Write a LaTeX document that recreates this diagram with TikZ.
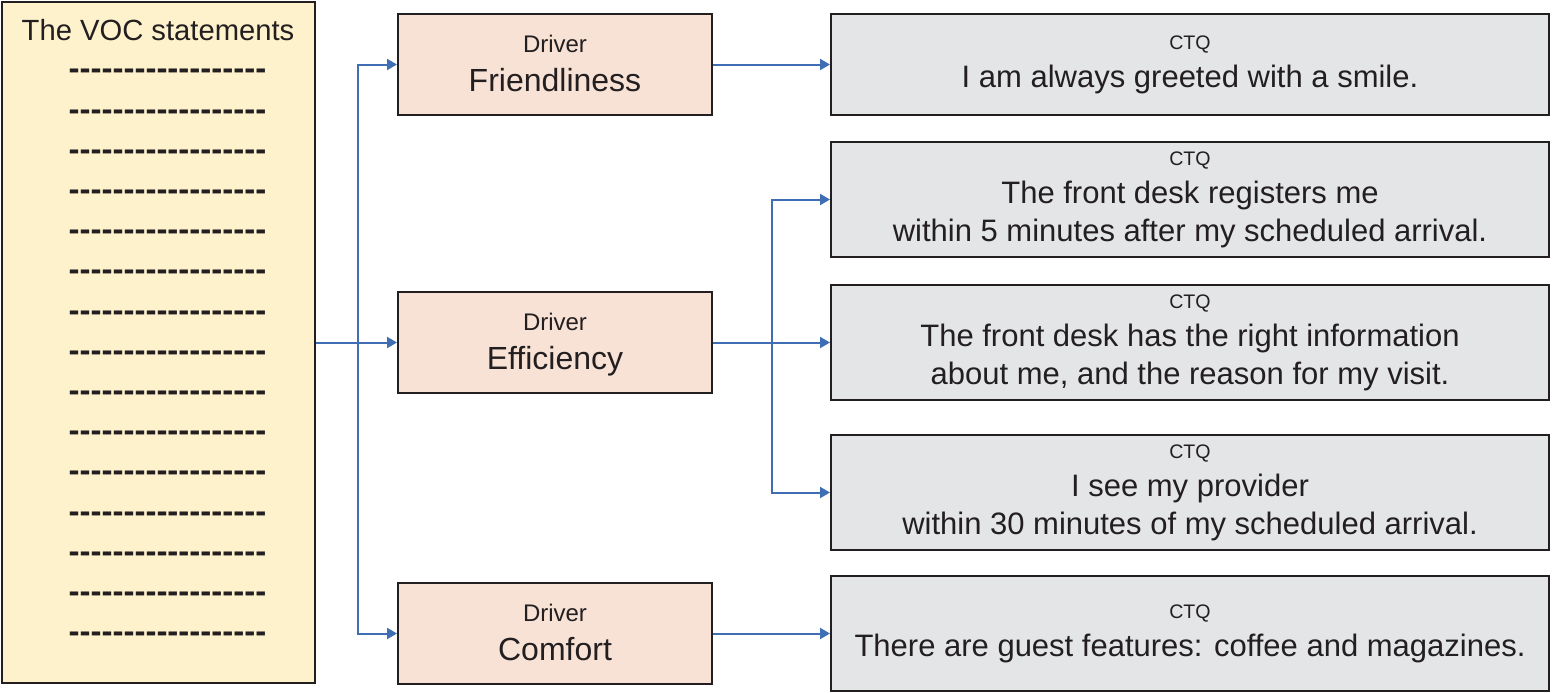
\documentclass[tikz,border=0pt]{standalone}
\usepackage{fontspec}
\setmainfont{Liberation Sans}
\newfontfamily\dashfont{Liberation Sans}
\usetikzlibrary{arrows.meta,positioning}
\definecolor{vocfill}{RGB}{254,242,205}
\definecolor{drvfill}{RGB}{248,226,214}
\definecolor{ctqfill}{RGB}{228,229,231}
\definecolor{edge}{RGB}{35,31,32}
\definecolor{linkblue}{RGB}{64,110,180}

\begin{document}
\begin{tikzpicture}[x=0.5pt, y=-0.5pt, >={Triangle[length=5pt,width=5.5pt]},
   box/.style={rectangle, draw=edge, line width=1pt, text=edge, inner sep=0pt},
   voc/.style={box, fill=vocfill, minimum width=156.5pt, minimum height=340.5pt},
   driver/.style={box, fill=drvfill, minimum width=157pt, minimum height=50.5pt,
      align=center, font=\fontsize{16}{19.5}\selectfont, text depth=1pt},
   ctq/.style={box, fill=ctqfill, minimum width=359pt, minimum height=57.5pt,
      align=center, font=\fontsize{15.5}{19}\selectfont, text depth=3.3pt},
   small/.style={font=\fontsize{12}{14}\selectfont},
   link/.style={draw=linkblue, line width=1pt}]
   \useasboundingbox (0,0) rectangle (1554,692);
   % VOC column
   \node (voc) at (158.5,342.5) [voc] {};
   \node (title) at (158,40) [anchor=base, text=edge, font=\fontsize{14.6}{17}\selectfont] {The VOC statements};
   \foreach \i in {0,...,14}
      \node (row\i) at (167.5,79.8+40.2*\i) [anchor=base, text=edge,
         font=\dashfont\bfseries\fontsize{16.5}{18}\selectfont] {------------------};
   % drivers
   \node (fr) at (555,64.5) [driver] {{\fontsize{12}{14}\selectfont Driver}\\Friendliness};
   \node (ef) at (555,342.5) [driver] {{\fontsize{12}{14}\selectfont Driver}\\Efficiency};
   \node (co) at (555,633.5) [driver] {{\fontsize{12}{14}\selectfont Driver}\\Comfort};
   % CTQs
   \node (c1) at (1190,64.5) [ctq, minimum height=50.5pt] {{\fontsize{9.8}{12}\selectfont CTQ}\\
I am always greeted with a smile.};
   \node (c2) at (1190,199.5) [ctq] {{\fontsize{9.8}{12}\selectfont CTQ}\\
The front desk registers me\\
within 5 minutes after my scheduled arrival.};
   \node (c3) at (1190,342.5) [ctq] {{\fontsize{9.8}{12}\selectfont CTQ}\\
The front desk has the right information\\
about me, and the reason for my visit.};
   \node (c4) at (1190,492.5) [ctq] {{\fontsize{9.8}{12}\selectfont CTQ}\\
I see my provider\\
within 30 minutes of my scheduled arrival.};
   \node (c5) at (1190,633.5) [ctq] {{\fontsize{9.8}{12}\selectfont CTQ}\\
There are guest features: coffee and magazines.};
   % connectors
   \draw [link,->] (voc.east) -- (ef.west);
   \draw [link,->] ([xshift=21pt]voc.east) |- (fr.west);
   \draw [link,->] ([xshift=21pt]voc.east) |- (co.west);
   \draw [link,->] (fr) -- (c1);
   \draw [link,->] (ef) -- (c3);
   \draw [link,->] ([xshift=29.5pt]ef.east) |- (c2.west);
   \draw [link,->] ([xshift=29.5pt]ef.east) |- (c4.west);
   \draw [link,->] (co) -- (c5);

\end{tikzpicture}
\end{document}
